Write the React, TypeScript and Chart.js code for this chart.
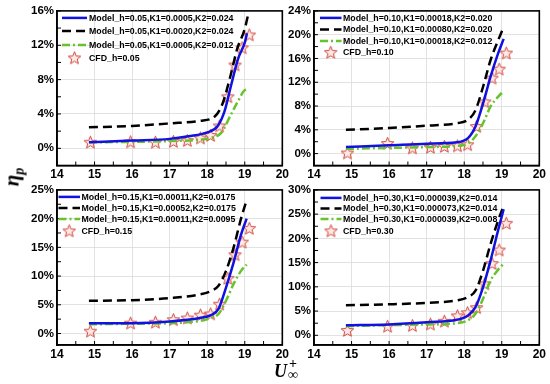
import React, { useEffect, useRef } from 'react';
import { Chart, registerables } from 'chart.js';

Chart.register(...registerables);

// ---------- data ----------
const xTicks = [14, 15, 16, 17, 18, 19, 20];

const cfdX = [14.89, 15.96, 16.62, 17.1, 17.47, 17.82, 18.09, 18.33, 18.55, 18.74, 18.93, 19.12];
const cfd1 = [0.7, 0.75, 0.7, 0.8, 0.9, 1.2, 1.5, 2.6, 6.0, 9.7, 11.7, 13.2];
const cfd2 = [0.1, 1.7, 0.95, 1.05, 1.2, 1.3, 1.5, 4.55, 8.7, 12.7, 14.2, 16.9];
const cfd3 = [0.4, 1.8, 1.95, 2.4, 2.7, 3.2, 3.4, 5.1, 9.6, 13.7, 15.9, 18.3];
const cfd4 = [1.0, 1.85, 2.0, 2.3, 2.9, 4.0, 4.65, 5.7, 10.6, 14.8, 17.6, 23.1];

// panel 1 (h = 0.05)
const blue1X = [14.85, 16, 17, 17.5, 18, 18.28, 18.46, 18.64, 18.82, 19.0, 19.06];
const blue1 = [0.7, 0.9, 1.1, 1.4, 1.85, 2.6, 4.3, 7.4, 10.4, 12.3, 13.4];
const black1X = [14.85, 16, 17, 17.8, 18.2, 18.4, 18.6, 18.8, 19.0, 19.08];
const black1 = [2.45, 2.6, 2.9, 3.2, 3.7, 5.1, 8.1, 11.6, 13.9, 15.4];
const green1X = [14.85, 16, 17, 17.8, 18.18, 18.37, 18.64, 18.82, 18.98, 19.05];
const green1 = [0.7, 0.75, 0.85, 1.0, 1.3, 1.8, 4.0, 5.5, 6.7, 6.9];

// panels 2-4 share model x positions
const modelX = [14.85, 16, 17, 17.8, 18.1, 18.3, 18.5, 18.7, 18.9, 19.05];
const blue2 = [1.1, 1.4, 1.67, 1.9, 2.6, 4.55, 8.4, 12.9, 16.8, 19.3];
const black2 = [4.0, 4.3, 4.7, 5.1, 5.7, 7.3, 11.2, 15.7, 19.0, 21.3];
const green2 = [0.8, 0.95, 1.1, 1.3, 1.7, 2.9, 5.1, 7.9, 9.55, 10.5];
const blue3 = [1.8, 1.8, 2.1, 2.7, 3.2, 4.3, 8.0, 12.3, 17.2, 20.0];
const black3 = [5.7, 5.8, 6.15, 6.8, 7.4, 8.3, 10.9, 14.9, 20.0, 23.2];
const green3 = [1.6, 1.7, 1.8, 2.2, 2.7, 3.4, 5.7, 8.6, 10.9, 12.0];
const blue4 = [2.05, 2.25, 2.7, 3.2, 4.1, 5.8, 9.9, 15.4, 21.6, 26.0];
const black4 = [6.2, 6.4, 6.7, 7.2, 7.9, 9.2, 13.3, 18.8, 23.6, 26.7];
const green4 = [1.9, 2.1, 2.25, 2.5, 3.1, 4.45, 7.5, 11.3, 13.5, 14.8];

const yTicks1 = [0, 4, 8, 12, 16];
const yTicks2 = [0, 4, 8, 12, 16, 20, 24];
const yTicks3 = [0, 5, 10, 15, 20, 25];
const yTicks4 = [0, 5, 10, 15, 20, 25, 30];

const legend1 = ['Model_h=0.05,K1=0.0005,K2=0.024', 'Model_h=0.05,K1=0.0020,K2=0.024', 'Model_h=0.05,K1=0.0005,K2=0.012', 'CFD_h=0.05'];
const legend2 = ['Model_h=0.10,K1=0.00018,K2=0.020', 'Model_h=0.10,K1=0.00080,K2=0.020', 'Model_h=0.10,K1=0.00018,K2=0.012', 'CFD_h=0.10'];
const legend3 = ['Model_h=0.15,K1=0.00011,K2=0.0175', 'Model_h=0.15,K1=0.00052,K2=0.0175', 'Model_h=0.15,K1=0.00011,K2=0.0095', 'CFD_h=0.15'];
const legend4 = ['Model_h=0.30,K1=0.000039,K2=0.014', 'Model_h=0.30,K1=0.000073,K2=0.014', 'Model_h=0.30,K1=0.000039,K2=0.008', 'CFD_h=0.30'];

// ---------- styling ----------
const FONT = '"Liberation Sans", Arial, sans-serif';
const BLUE = '#1212e0';
const GREEN = '#66c42a';
const BLACK = '#000000';

type Panel = {
  area: { l: number; t: number; r: number; b: number };
  yMin: number;
  yMax: number;
  yTicks: number[];
  yMinor: number;
  blueX: number[]; blue: number[];
  blackX: number[]; black: number[];
  greenX: number[]; green: number[];
  cfd: number[];
  labels: string[];
  leg: { sx0: number; sx1: number; tx: number; rows: number[] };
};

const panels: Panel[] = [
  {
    area: { l: 57, t: 9, r: 283, b: 165.5 }, yMin: -2, yMax: 16, yTicks: yTicks1, yMinor: 2,
    blueX: blue1X, blue: blue1, blackX: black1X, black: black1, greenX: green1X, green: green1,
    cfd: cfd1, labels: legend1,
    leg: { sx0: 5, sx1: 30, tx: 32, rows: [7, 20, 34, 47] },
  },
  {
    area: { l: 314, t: 9, r: 540, b: 165.5 }, yMin: -2, yMax: 24, yTicks: yTicks2, yMinor: 2,
    blueX: modelX, blue: blue2, blackX: modelX, black: black2, greenX: modelX, green: green2,
    cfd: cfd2, labels: legend2,
    leg: { sx0: 6, sx1: 27.5, tx: 29, rows: [7, 18.5, 30, 41.5] },
  },
  {
    area: { l: 57, t: 188, r: 283, b: 345 }, yMin: -2, yMax: 25, yTicks: yTicks3, yMinor: 2.5,
    blueX: modelX, blue: blue3, blackX: modelX, black: black3, greenX: modelX, green: green3,
    cfd: cfd3, labels: legend3,
    leg: { sx0: 1.5, sx1: 23, tx: 24.5, rows: [7, 18, 29, 41] },
  },
  {
    area: { l: 314, t: 188, r: 540, b: 345 }, yMin: -2, yMax: 30, yTicks: yTicks4, yMinor: 2.5,
    blueX: modelX, blue: blue4, blackX: modelX, black: black4, greenX: modelX, green: green4,
    cfd: cfd4, labels: legend4,
    leg: { sx0: 6.5, sx1: 27.5, tx: 29, rows: [8, 18.5, 29, 41] },
  },
];

const Y_AXIS_W = 47;
const PAD_T = 8;
const PAD_R = 8;
const X_AXIS_H = 20;

function pts(xs: number[], ys: number[]) {
  return xs.map((x, i) => ({ x, y: ys[i] }));
}

function makeStar(): HTMLCanvasElement {
  const c = document.createElement('canvas');
  c.width = 15;
  c.height = 15;
  const g = c.getContext('2d')!;
  const cx = 7.5, cy = 7.9, R = 6.6, r = 2.9;
  g.beginPath();
  for (let i = 0; i < 10; i++) {
    const a = -Math.PI / 2 + (i * Math.PI) / 5;
    const rad = i % 2 === 0 ? R : r;
    g.lineTo(cx + rad * Math.cos(a), cy + rad * Math.sin(a));
  }
  g.closePath();
  g.fillStyle = 'rgba(255,228,224,0.85)';
  g.fill();
  g.strokeStyle = '#cf463b';
  g.lineWidth = 1;
  g.stroke();
  return c;
}

function PanelChart({ p }: { p: Panel }) {
  const ref = useRef<HTMLCanvasElement>(null);
  const cLeft = p.area.l - Y_AXIS_W;
  const cTop = p.area.t - PAD_T;
  const cW = Math.ceil(p.area.r + PAD_R - cLeft);
  const cH = Math.ceil(p.area.b + X_AXIS_H - cTop);
  const xAxisH = cH - (p.area.b - cTop);
  const rightPad = cW - (p.area.r - cLeft);

  useEffect(() => {
    const star = makeStar();
    const framePlugin = {
      id: 'frame',
      beforeDatasetsDraw(chart: any) {
        const { ctx, chartArea: a, scales } = chart;
        ctx.save();
        ctx.strokeStyle = '#000';
        ctx.lineWidth = 1;
        for (let v = 14; v <= 20.001; v += 0.5) {
          const x = scales.x.getPixelForValue(v);
          ctx.beginPath();
          ctx.moveTo(x, a.bottom);
          ctx.lineTo(x, a.bottom - 4);
          ctx.stroke();
        }
        for (let v = 0; v <= p.yMax + 0.001; v += p.yMinor) {
          const y = scales.y.getPixelForValue(v);
          ctx.beginPath();
          ctx.moveTo(a.left, y);
          ctx.lineTo(a.left + 4, y);
          ctx.stroke();
        }
        ctx.lineWidth = 1.6;
        ctx.strokeRect(a.left, a.top, a.right - a.left, a.bottom - a.top);
        ctx.restore();
      },
    };
    const legendPlugin = {
      id: 'inlegend',
      afterDatasetsDraw(chart: any) {
        const { ctx, chartArea: a } = chart;
        ctx.save();
        ctx.font = `bold 8.8px ${FONT}`;
        ctx.textBaseline = 'middle';
        ctx.textAlign = 'left';
        chart.data.datasets.forEach((ds: any, i: number) => {
          const y = a.top + p.leg.rows[i];
          const x0 = a.left + p.leg.sx0;
          const x1 = a.left + p.leg.sx1;
          if (ds.showLine) {
            ctx.save();
            ctx.strokeStyle = ds.borderColor;
            ctx.lineWidth = ds.borderWidth;
            ctx.setLineDash(ds.borderDash || []);
            ctx.beginPath();
            ctx.moveTo(x0, y);
            ctx.lineTo(x1, y);
            ctx.stroke();
            ctx.restore();
          } else {
            ctx.drawImage(star, (x0 + x1) / 2 - star.width / 2, y - star.height / 2);
          }
          ctx.fillStyle = '#000';
          ctx.fillText(ds.label, a.left + p.leg.tx, y + 0.5);
        });
        ctx.restore();
      },
    };

    const lineCommon = {
      showLine: true,
      pointRadius: 0,
      borderWidth: 2.5,
      cubicInterpolationMode: 'monotone',
      fill: false,
    };

    const chart = new Chart(ref.current!, {
      type: 'scatter',
      data: {
        datasets: [
          { ...lineCommon, label: p.labels[0], data: pts(p.blueX, p.blue), borderColor: BLUE },
          { ...lineCommon, label: p.labels[1], data: pts(p.blackX, p.black), borderColor: BLACK, borderDash: [9, 5] },
          { ...lineCommon, label: p.labels[2], data: pts(p.greenX, p.green), borderColor: GREEN, borderDash: [8, 3, 2, 3] },
          { label: p.labels[3], data: pts(cfdX, p.cfd), showLine: false, pointStyle: star, pointRadius: 6 },
        ] as any,
      },
      options: {
        responsive: false,
        animation: false,
        events: [],
        layout: { padding: { top: PAD_T, right: rightPad, left: 0, bottom: 0 } },
        plugins: { legend: { display: false }, tooltip: { enabled: false } },
        scales: {
          x: {
            type: 'linear',
            min: 14,
            max: 20,
            afterBuildTicks: (s: any) => { s.ticks = xTicks.map((v) => ({ value: v })); },
            afterFit: (s: any) => { s.height = xAxisH; },
            grid: { color: '#dadada', lineWidth: 0.8, drawTicks: false },
            border: { color: '#000', width: 1.6 },
            ticks: { color: '#000', font: { family: FONT, size: 12, weight: 'bold' }, padding: 2, maxRotation: 0, autoSkip: false },
          },
          y: {
            type: 'linear',
            min: p.yMin,
            max: p.yMax,
            afterBuildTicks: (s: any) => { s.ticks = p.yTicks.map((v) => ({ value: v })); },
            afterFit: (s: any) => { s.width = Y_AXIS_W; },
            grid: { color: '#dadada', lineWidth: 0.8, drawTicks: false },
            border: { color: '#000', width: 1.6 },
            ticks: {
              color: '#000',
              font: { family: FONT, size: 11.5, weight: 'bold' },
              padding: 3,
              callback: (v: any) => `${v}%`,
            },
          },
        },
      } as any,
      plugins: [framePlugin, legendPlugin],
    });
    return () => chart.destroy();
  }, []);

  return (
    <canvas
      ref={ref}
      width={cW}
      height={cH}
      style={{ position: 'absolute', left: cLeft, top: cTop, width: cW, height: cH }}
    />
  );
}

export default function App() {
  const serif = '"Liberation Serif", "DejaVu Serif", serif';
  return (
    <div style={{ position: 'absolute', left: 0, top: 0, width: 550, height: 384, background: '#fff', overflow: 'hidden' }}>
      {panels.map((p, i) => (
        <PanelChart key={i} p={p} />
      ))}
      <div
        style={{
          position: 'absolute', left: 12, top: 177,
          transform: 'translate(-50%, -50%) rotate(-90deg)',
          font: `italic bold 21px ${serif}`, lineHeight: 1, whiteSpace: 'nowrap', color: '#000',
        }}
      >
        η<span style={{ fontSize: 14, position: 'relative', top: 5 }}>p</span>
      </div>
      <div style={{ position: 'absolute', left: 274, top: 362, font: `italic bold 18px ${serif}`, lineHeight: 1, color: '#000' }}>U</div>
      <div style={{ position: 'absolute', left: 289, top: 357, font: `bold 14px ${serif}`, lineHeight: 1, color: '#000' }}>+</div>
      <div style={{ position: 'absolute', left: 288, top: 368, font: `bold 14px ${serif}`, lineHeight: 1, color: '#000' }}>∞</div>
    </div>
  );
}
